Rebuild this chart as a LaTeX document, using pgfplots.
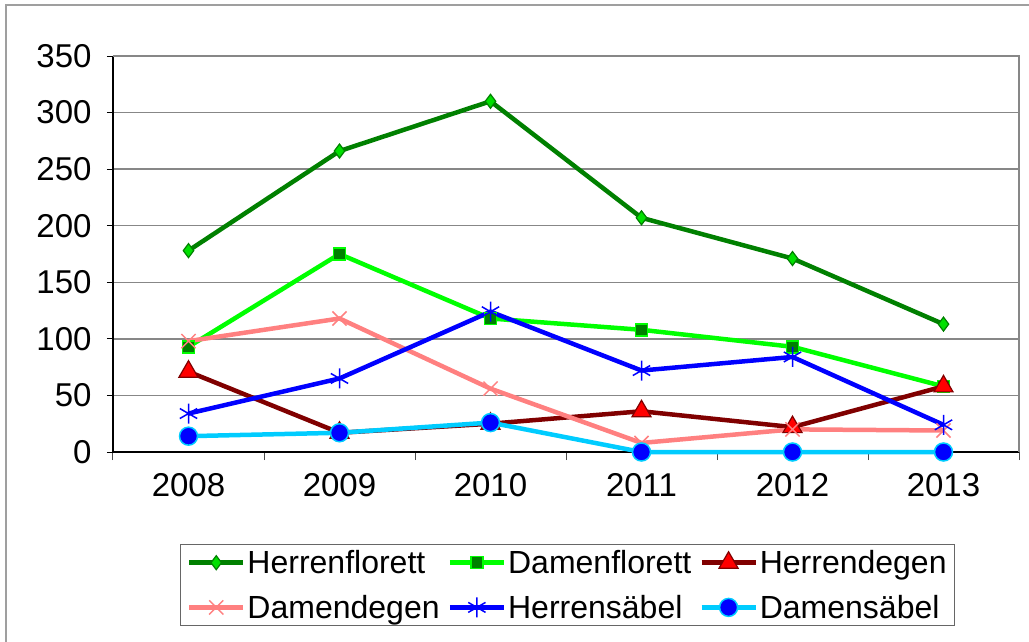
\documentclass[border=0pt]{standalone}
\usepackage{fontspec}
\setmainfont{Liberation Sans}
\usepackage{pgfplots}
\pgfplotsset{compat=1.18}
\definecolor{hflor}{HTML}{008000}
\definecolor{hflorfill}{HTML}{00E000}
\definecolor{dflor}{HTML}{00FF00}
\definecolor{hdeg}{HTML}{800000}
\definecolor{ddeg}{HTML}{FF8080}
\definecolor{hsab}{HTML}{0000FF}
\definecolor{dsab}{HTML}{00CCFF}
\definecolor{gridgray}{HTML}{878787}

\begin{document}
\begin{tikzpicture}
\clip (0,0) rectangle (1029pt,641pt);
\useasboundingbox (0,0) rectangle (1029pt,641pt);
\draw[gridgray!80, line width=1.5pt] (6pt,-20pt) -- (6pt,636pt) -- (1050pt,636pt);
\begin{axis}[
  at={(113pt,189pt)}, anchor=south west,
  scale only axis, width=906pt, height=396pt,
  xmin=0.5, xmax=6.5, ymin=0, ymax=350,
  xtick={1,2,3,4,5,6},
  xticklabels={2008,2009,2010,2011,2012,2013},
  minor xtick={0.5,1.5,2.5,3.5,4.5,5.5,6.5},
  ytick={0,50,100,150,200,250,300,350},
  axis lines=left, axis line style={-, black, line width=1.5pt},
  tick align=outside,
  major tick length=6pt, minor tick length=8pt,
  x tick style={draw=none},
  minor x tick style={draw=black!70, line width=1pt},
  y tick style={black, line width=1pt},
  ymajorgrids, grid style={gridgray, line width=1.5pt},
  /pgf/number format/assume math mode=true,
  tick label style={font=\fontsize{33}{38}\selectfont},
  yticklabel style={xshift=-12pt},
  xticklabel style={yshift=-12pt},
  clip=false,
  every axis plot/.append style={line width=4.5pt},
  legend columns=3,
  legend cell align=left,
  legend style={at={(0.502,-0.336)}, anchor=center,
    draw=black!60, line width=1pt,
    font=\fontsize{32}{38}\selectfont,
    inner xsep=6pt, inner ysep=4pt,
    row sep=16pt,
    /tikz/every even column/.append style={column sep=6pt}},
  legend image code/.code={%
    \draw[mark repeat=2,mark phase=2] plot coordinates {(0pt,0pt) (27pt,0pt) (54pt,0pt)};},
]
\draw[gridgray, line width=2pt] (rel axis cs:0,1) -- (rel axis cs:1,1) -- (rel axis cs:1,0);
\addplot[color=hflor, mark=diamond*, mark size=7pt,
  mark options={fill=hflorfill, draw=hflor, line width=1.2pt}]
  coordinates {(1,178) (2,266) (3,310) (4,207) (5,171) (6,113)};
\addlegendentry{Herrenflorett}
\addplot[color=dflor, mark=square*, mark size=6pt,
  mark options={fill=hflor, draw=dflor, line width=1.5pt}]
  coordinates {(1,93) (2,175) (3,118) (4,108) (5,93) (6,58)};
\addlegendentry{Damenflorett}
\addplot[color=hdeg, mark=triangle*, mark size=11pt,
  mark options={fill=red, draw=hdeg, line width=1.2pt}]
  coordinates {(1,71) (2,17) (3,25) (4,36) (5,22) (6,58)};
\addlegendentry{Herrendegen}
\addplot[color=ddeg, mark=x, mark size=10pt,
  mark options={draw=ddeg, line width=1.5pt}]
  coordinates {(1,98) (2,118) (3,56) (4,8) (5,20) (6,19)};
\addlegendentry{Damendegen}
\addplot[color=hsab, mark=asterisk, mark size=10pt,
  mark options={draw=hsab, line width=1.5pt}]
  coordinates {(1,34) (2,65) (3,124) (4,72) (5,84) (6,24)};
\addlegendentry{Herrensäbel}
\addplot[color=dsab, mark=*, mark size=9pt,
  mark options={fill=hsab, draw=dsab, line width=1.5pt}]
  coordinates {(1,14) (2,17) (3,26) (4,0) (5,0) (6,0)};
\addlegendentry{Damensäbel}
\end{axis}
\end{tikzpicture}
\end{document}
